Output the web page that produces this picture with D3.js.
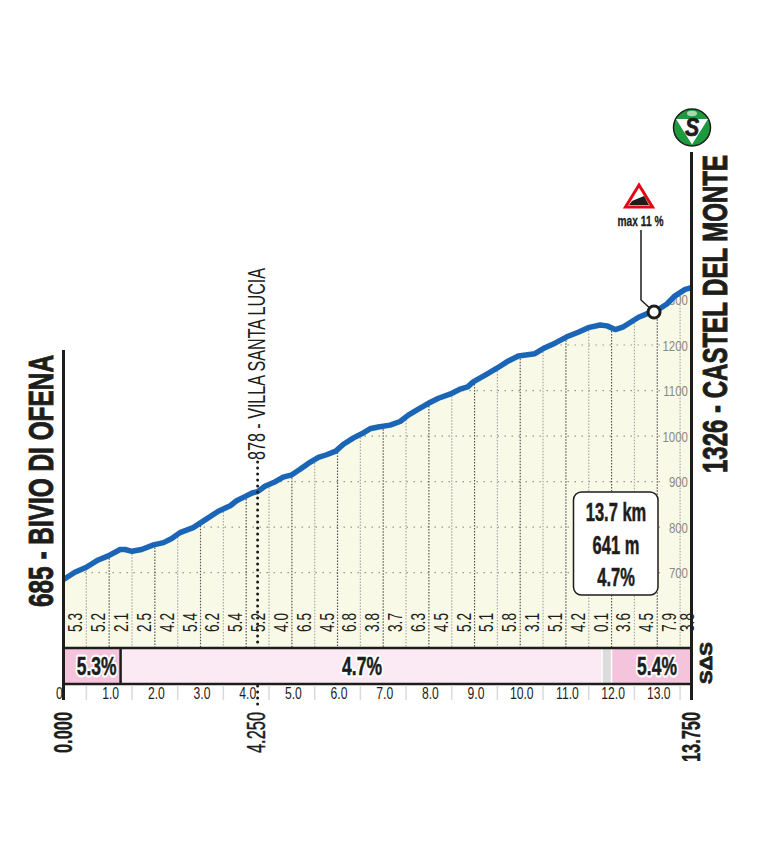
<!DOCTYPE html>
<html><head><meta charset="utf-8">
<script src="https://cdn.jsdelivr.net/npm/d3@7"></script>
<style>
html,body{margin:0;padding:0;background:#fff}
svg{display:block}
text{font-family:"Liberation Sans",sans-serif;fill:#1d1d1b}
</style></head><body>
<script>
const profileKm=[0,0.25,0.5,0.76,0.98,1.24,1.35,1.5,1.71,1.97,2.19,2.37,2.55,2.84,3.1,3.39,3.65,3.79,3.97,4.13,4.25,4.41,4.6,4.81,5.0,5.18,5.36,5.58,5.76,5.96,6.13,6.35,6.53,6.71,6.89,7.15,7.37,7.55,7.77,7.99,8.21,8.46,8.68,8.85,8.97,9.27,9.49,9.74,9.96,10.32,10.54,10.76,11.02,11.27,11.49,11.75,11.9,12.08,12.26,12.59,12.81,12.95,13.21,13.39,13.61,13.75];
const profileElev=[685,701,712,728,737,751,751,747,751,761,766,775,788,799,816,835,847,858,867,875,878,890,898,910,915,927,940,953,959,967,982,996,1005,1016,1020,1024,1032,1046,1059,1072,1083,1092,1103,1108,1119,1136,1149,1165,1176,1181,1194,1204,1218,1228,1238,1244,1242,1234,1240,1261,1270,1273,1290,1308,1322,1326];
const segmentGradients=["5.3","5.2","2.1","2.5","4.2","5.4","6.2","5.4","5.2","4.0","6.5","4.5","6.8","3.8","3.7","6.3","4.5","5.2","5.1","5.8","3.1","5.1","4.2","0.1","3.6","4.5","7.9","3.8"];
const segmentCentres=[0.25,0.75,1.25,1.75,2.25,2.75,3.25,3.75,4.25,4.75,5.25,5.75,6.25,6.75,7.25,7.75,8.25,8.75,9.25,9.75,10.25,10.75,11.25,11.75,12.25,12.75,13.25,13.63];
const elevTicks=[700,800,900,1000,1100,1200,1300];
const kmLabels=[1,2,3,4,5,6,7,8,9,10,11,12,13];
const gridKm=[0.5,1,1.5,2,2.5,3,3.5,4,4.5,5,5.5,6,6.5,7,7.5,8,8.5,9,9.5,10,10.5,11,11.5,12,12.5,13,13.5];
const barStart=[0,1.25,11.79,12.0];
const barEnd=[1.25,11.79,12.0,13.75];
const barLabel=["5.3%","4.7%","","5.4%"];
const barFill=["#f4c4dc","#fbeaf3","#dcdcdc","#f4c4dc"];
const summary=["13.7 km","641 m","4.7%"];

const W=758,H=852;
const x=d3.scaleLinear().domain([0,13.75]).range([63.5,691.5]);
const y=d3.scaleLinear().domain([700,1200]).range([572.7,345]);
const pts=profileKm.map((k,i)=>({k,e:profileElev[i]}));
const elevAt=d3.scaleLinear().domain(profileKm).range(profileElev);
const svg=d3.select("body").append("svg").attr("width",W).attr("height",H).attr("viewBox",`0 0 ${W} ${H}`);
const barTop=648,barBot=684;
const narrow=(tx,ty,k)=>`translate(${tx},${ty}) scale(${k},1)`;

svg.append("path").datum(pts).attr("fill","#f9f9e7")
  .attr("d",d3.area().x(d=>x(d.k)).y0(barTop).y1(d=>y(d.e)));
svg.append("defs").append("clipPath").attr("id","under").append("path").datum(pts)
  .attr("d",d3.area().x(d=>x(d.k)).y0(barTop).y1(d=>y(d.e)));

const under=svg.append("g").attr("clip-path","url(#under)");
under.selectAll("line.h").data(elevTicks).join("line")
  .attr("x1",x(0)).attr("x2",660).attr("y1",d=>y(d)).attr("y2",d=>y(d))
  .attr("stroke","#9b9b8c").attr("stroke-width",1.2).attr("stroke-dasharray","1.5 5.5");
under.selectAll("line.v").data(gridKm).join("line")
  .attr("x1",d=>x(d)).attr("x2",d=>x(d)).attr("y1",d=>y(elevAt(d))).attr("y2",barTop)
  .attr("stroke",d=>Number.isInteger(d)?"#555":"#aaa").attr("stroke-width",1.2)
  .attr("stroke-dasharray","1.5 1.5");
under.selectAll("text.e").data(elevTicks).join("text")
  .attr("transform",d=>narrow(688,y(d)+5.5,0.74)).attr("text-anchor","end")
  .attr("font-size",15.5).style("fill","#8a8a80").text(d=>d);

svg.selectAll("text.grad").data(segmentGradients).join("text")
  .attr("transform",(d,i)=>`translate(${x(segmentCentres[i])+7.5},632) rotate(-90) scale(0.65,1)`)
  .attr("font-size",21).text(d=>d);

svg.append("path").datum(pts).attr("fill","none").attr("stroke","#1b65b7")
  .attr("stroke-width",5.5).attr("stroke-linejoin","round")
  .attr("d",d3.line().x(d=>x(d.k)).y(d=>y(d.e)));

// gradient bar
const bars=svg.append("g");
bars.selectAll("rect").data(barFill).join("rect")
  .attr("x",(d,i)=>x(barStart[i])).attr("width",(d,i)=>x(barEnd[i])-x(barStart[i]))
  .attr("y",barTop).attr("height",barBot-barTop).attr("fill",d=>d);
bars.append("line").attr("x1",x(11.79)).attr("x2",x(11.79)).attr("y1",barTop).attr("y2",barBot).attr("stroke","#fff").attr("stroke-width",1.5);
bars.append("line").attr("x1",x(12)).attr("x2",x(12)).attr("y1",barTop).attr("y2",barBot).attr("stroke","#fff").attr("stroke-width",1.5);
bars.append("line").attr("x1",x(1.25)).attr("x2",x(1.25)).attr("y1",barTop).attr("y2",barBot).attr("stroke","#1d1d1b").attr("stroke-width",2.5);
[barTop,barBot].forEach(v=>bars.append("line").attr("x1",x(0)).attr("x2",x(13.75)).attr("y1",v).attr("y2",v).attr("stroke","#1d1d1b").attr("stroke-width",2.5));
const barCx=[96.7,362,null,657];
const barG=bars.selectAll("g.lbl").data(barLabel).join("g")
  .attr("transform",(d,i)=>narrow(barCx[i]||0,675,0.7));
barG.append("text").attr("text-anchor","middle").attr("font-size",25).attr("font-weight",700)
  .style("fill","#fff").attr("stroke","#fff").attr("stroke-width",5).attr("stroke-linejoin","round").attr("aria-hidden","true").text(d=>d);
barG.append("text").attr("text-anchor","middle").attr("font-size",25).attr("font-weight",700)
  .attr("stroke","#1d1d1b").attr("stroke-width",0.5).text(d=>d);

// km axis
svg.selectAll("line.t").data(gridKm.filter(d=>!Number.isInteger(d))).join("line")
  .attr("x1",d=>x(d)).attr("x2",d=>x(d)).attr("y1",barBot+1.5).attr("y2",700)
  .attr("stroke","#dadada").attr("stroke-width",1.5);
svg.selectAll("text.km").data(kmLabels).join("text")
  .attr("transform",d=>narrow(x(d)+1.5,699,0.76)).attr("text-anchor","middle").attr("font-size",16)
  .text(d=>d.toFixed(1));
svg.append("text").attr("transform",narrow(59.5,699,0.76)).attr("text-anchor","middle").attr("font-size",16).text("0");

// end lines
svg.append("line").attr("x1",x(0)).attr("x2",x(0)).attr("y1",350).attr("y2",700).attr("stroke","#1d1d1b").attr("stroke-width",3);
svg.append("line").attr("x1",x(13.75)).attr("x2",x(13.75)).attr("y1",152).attr("y2",700).attr("stroke","#1d1d1b").attr("stroke-width",3);

// intermediate point
svg.append("line").attr("x1",x(4.25)).attr("x2",x(4.25)).attr("y1",462).attr("y2",648)
  .attr("stroke","#1d1d1b").attr("stroke-width",3).attr("stroke-linecap","round").attr("stroke-dasharray","0 6");
svg.append("line").attr("x1",x(4.25)).attr("x2",x(4.25)).attr("y1",686).attr("y2",708)
  .attr("stroke","#1d1d1b").attr("stroke-width",3).attr("stroke-linecap","round").attr("stroke-dasharray","0 6");

function vtext(tx,ty,s,size,weight,len,bold){
  return svg.append("text").attr("transform",`translate(${tx},${ty}) rotate(-90)`)
    .attr("font-size",size).attr("font-weight",weight).attr("textLength",len)
    .attr("lengthAdjust","spacingAndGlyphs")
    .attr("stroke","#1d1d1b").attr("stroke-width",bold).text(s);
}
vtext(53,607,"685 - BIVIO DI OFENA",35,700,252,0.9);
vtext(727,473,"1326 - CASTEL DEL MONTE",35,700,318,0.9);
vtext(265,460,"878 - VILLA SANTA LUCIA",24,400,192,0);
vtext(72,753,"0.000",25,700,41,0.4);
vtext(265,753,"4.250",25,400,41,0.4);
vtext(700,762,"13.750",25,700,50,0.4);
vtext(712,684,"SΔS",17,700,42,0.8);

// summary box
svg.append("rect").attr("x",573.5).attr("y",492).attr("width",84.5).attr("height",103).attr("rx",8)
  .attr("fill","#fff").attr("stroke","#1d1d1b").attr("stroke-width",1.5);
svg.selectAll("text.sum").data(summary).join("text")
  .attr("transform",(d,i)=>narrow(616,521+i*32.5,0.66)).attr("text-anchor","middle")
  .attr("font-size",25).attr("font-weight",700).attr("stroke","#1d1d1b").attr("stroke-width",0.5).text(d=>d);

// max gradient marker
const mk=12.93;
svg.append("path").attr("fill","none").attr("stroke","#1d1d1b").attr("stroke-width",1.5)
  .attr("d",`M641,230V300L${x(mk)},${y(elevAt(mk))}`);
svg.append("circle").attr("cx",x(mk)).attr("cy",y(elevAt(mk))).attr("r",6)
  .attr("fill","#fff").attr("stroke","#1d1d1b").attr("stroke-width",3);
svg.append("path").attr("d","M639,185L652.5,207H625.5Z").attr("fill","#fff").attr("stroke","#e30613").attr("stroke-width",3).attr("stroke-linejoin","miter");
svg.append("path").attr("d","M629,205L632,201L644,196L649,205Z").attr("fill","#1d1d1b");
svg.append("text").attr("transform",narrow(640.5,226,0.68)).attr("text-anchor","middle").attr("font-size",15).attr("font-weight",700).attr("stroke","#1d1d1b").attr("stroke-width",0.3).text("max 11 %");

// sprint badge
const bd=svg.append("g").attr("transform","translate(692,127.5)");
bd.append("circle").attr("r",18.5).attr("fill","#1e9a3e").attr("stroke","#1d1d1b").attr("stroke-width",1.5);
bd.append("ellipse").attr("cy",-14).attr("rx",5).attr("ry",2.8).attr("fill","#a9d8b4");
bd.append("path").attr("d","M-16,-8.5H16L0,17Z").attr("fill","#fff");
bd.append("text").attr("transform","translate(0,8) scale(0.85,1)").attr("text-anchor","middle").attr("font-size",25).attr("font-weight",700).attr("font-style","italic").attr("stroke","#1d1d1b").attr("stroke-width",0.7).text("S");
</script>
</body></html>
